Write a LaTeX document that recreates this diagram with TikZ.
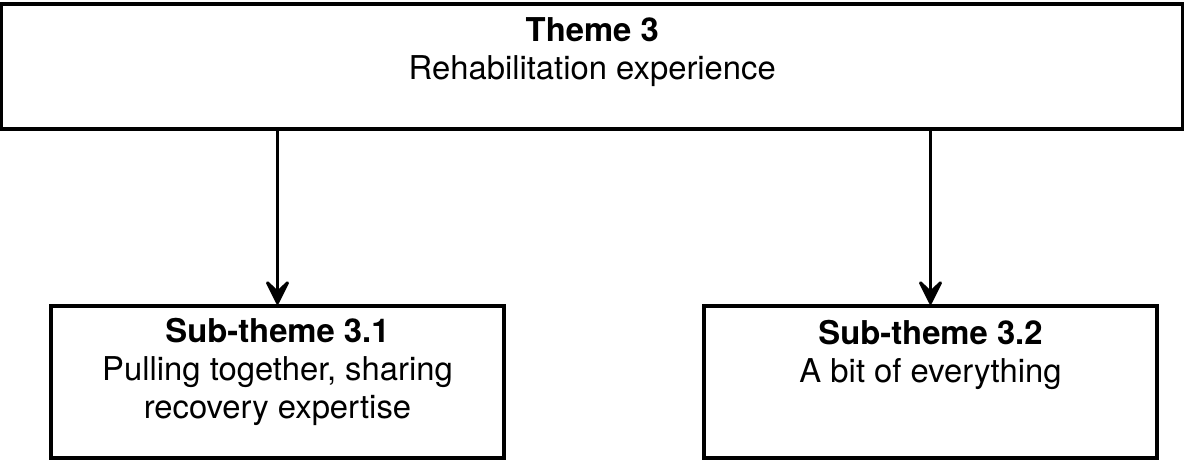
\documentclass[tikz,border=0pt]{standalone}
\usepackage{fontspec}
\setmainfont{TeX Gyre Heros}
\usetikzlibrary{positioning, arrows.meta}

\begin{document}
\begin{tikzpicture}[
  x=0.5pt, y=-0.5pt,
  every node/.style={font=\fontsize{16.4}{19}\selectfont},
  themebox/.style={
    draw, line width=1.7pt,
    minimum width=590.5pt, minimum height=62.5pt
  },
  subbox/.style={
    draw, line width=1.7pt,
    minimum width=226.5pt, minimum height=76pt
  },
  boxtext/.style={anchor=base, align=center, inner sep=0pt},
  arrow/.style={-{Stealth[length=15pt,width=15pt,inset=7pt,round,line width=1.5pt]}, line width=1.5pt},
]
\useasboundingbox (0,0) rectangle (1185,460);

% Theme
\node[themebox] (theme) at (592.25,66.5) {};
\node[boxtext] (themetxt) at ([yshift=-6.75pt]theme.center) {\textbf{Theme 3}\\Rehabilitation experience};

% Sub-themes
\node[subbox] (subone) at (277.5,382) {};
\node[boxtext] (subonetxt) at ([yshift=-18pt]subone.center) {\textbf{Sub-theme 3.1}\\Pulling together, sharing\\recovery expertise};

\node[subbox] (subtwo) at (930.5,382) {};
\node[boxtext] (subtwotxt) at (subtwo.center) {\textbf{Sub-theme 3.2}\\A bit of everything};

% Arrows
\draw[arrow] (subone.north |- theme.south) -- (subone.north);
\draw[arrow] (subtwo.north |- theme.south) -- (subtwo.north);

\end{tikzpicture}
\end{document}
